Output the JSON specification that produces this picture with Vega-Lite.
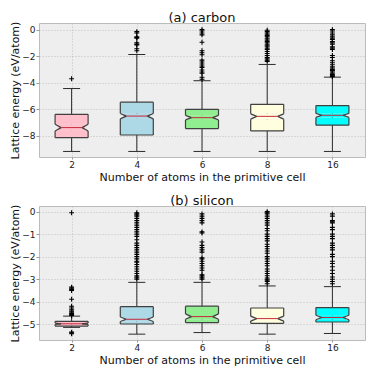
{
  "$schema": "https://vega.github.io/schema/vega-lite/v6.json",
  "padding": {"left": 9, "top": 11, "right": 5, "bottom": 4},
  "background": "white",
  "datasets": {
    "boxes": [
      {"p": "carbon", "n": "2", "lo": -9.2, "q1": -8.16, "nlo": -7.65, "med": -7.4, "nhi": -7.14, "q3": -6.4, "hi": -4.45},
      {"p": "carbon", "n": "4", "lo": -9.2, "q1": -7.96, "nlo": -6.74, "med": -6.53, "nhi": -6.33, "q3": -5.48, "hi": -1.88},
      {"p": "carbon", "n": "6", "lo": -9.2, "q1": -7.47, "nlo": -6.82, "med": -6.65, "nhi": -6.48, "q3": -6.02, "hi": -3.86},
      {"p": "carbon", "n": "8", "lo": -9.2, "q1": -7.65, "nlo": -6.76, "med": -6.55, "nhi": -6.36, "q3": -5.64, "hi": -2.63},
      {"p": "carbon", "n": "16", "lo": -9.2, "q1": -7.22, "nlo": -6.63, "med": -6.47, "nhi": -6.33, "q3": -5.74, "hi": -3.59},
      {"p": "silicon", "n": "2", "lo": -5.14, "q1": -5.08, "nlo": -5.01, "med": -4.98, "nhi": -4.95, "q3": -4.87, "hi": -4.64},
      {"p": "silicon", "n": "4", "lo": -5.44, "q1": -4.99, "nlo": -4.88, "med": -4.78, "nhi": -4.68, "q3": -4.22, "hi": -3.14},
      {"p": "silicon", "n": "6", "lo": -5.37, "q1": -4.93, "nlo": -4.78, "med": -4.66, "nhi": -4.54, "q3": -4.2, "hi": -3.14},
      {"p": "silicon", "n": "8", "lo": -5.44, "q1": -4.96, "nlo": -4.86, "med": -4.75, "nhi": -4.64, "q3": -4.28, "hi": -3.3},
      {"p": "silicon", "n": "16", "lo": -5.41, "q1": -4.9, "nlo": -4.8, "med": -4.7, "nhi": -4.6, "q3": -4.26, "hi": -3.33}
    ],
    "out": [
      {"p": "carbon", "n": "2", "v": -3.71},
      {"p": "carbon", "n": "4", "v": -0.15}, {"p": "carbon", "n": "4", "v": -0.25}, {"p": "carbon", "n": "4", "v": -0.55}, {"p": "carbon", "n": "4", "v": -0.6}, {"p": "carbon", "n": "4", "v": -0.65}, {"p": "carbon", "n": "4", "v": -1.0}, {"p": "carbon", "n": "4", "v": -1.1}, {"p": "carbon", "n": "4", "v": -1.15}, {"p": "carbon", "n": "4", "v": -1.45}, {"p": "carbon", "n": "4", "v": -1.6},
      {"p": "carbon", "n": "6", "v": 0.0}, {"p": "carbon", "n": "6", "v": -0.1}, {"p": "carbon", "n": "6", "v": -0.25}, {"p": "carbon", "n": "6", "v": -0.4}, {"p": "carbon", "n": "6", "v": -0.95}, {"p": "carbon", "n": "6", "v": -1.6}, {"p": "carbon", "n": "6", "v": -1.75}, {"p": "carbon", "n": "6", "v": -1.9}, {"p": "carbon", "n": "6", "v": -2.3}, {"p": "carbon", "n": "6", "v": -2.45}, {"p": "carbon", "n": "6", "v": -2.6}, {"p": "carbon", "n": "6", "v": -2.75}, {"p": "carbon", "n": "6", "v": -2.85}, {"p": "carbon", "n": "6", "v": -3.05}, {"p": "carbon", "n": "6", "v": -3.2}, {"p": "carbon", "n": "6", "v": -3.3}, {"p": "carbon", "n": "6", "v": -3.6}, {"p": "carbon", "n": "6", "v": -3.75},
      {"p": "carbon", "n": "8", "v": -0.05}, {"p": "carbon", "n": "8", "v": -0.15}, {"p": "carbon", "n": "8", "v": -0.25}, {"p": "carbon", "n": "8", "v": -0.35}, {"p": "carbon", "n": "8", "v": -0.45}, {"p": "carbon", "n": "8", "v": -0.55}, {"p": "carbon", "n": "8", "v": -0.7}, {"p": "carbon", "n": "8", "v": -0.8}, {"p": "carbon", "n": "8", "v": -0.9}, {"p": "carbon", "n": "8", "v": -1.0}, {"p": "carbon", "n": "8", "v": -1.15}, {"p": "carbon", "n": "8", "v": -1.25}, {"p": "carbon", "n": "8", "v": -1.4}, {"p": "carbon", "n": "8", "v": -1.5}, {"p": "carbon", "n": "8", "v": -1.65}, {"p": "carbon", "n": "8", "v": -1.8}, {"p": "carbon", "n": "8", "v": -1.95}, {"p": "carbon", "n": "8", "v": -2.1}, {"p": "carbon", "n": "8", "v": -2.2}, {"p": "carbon", "n": "8", "v": -2.3}, {"p": "carbon", "n": "8", "v": -2.4},
      {"p": "carbon", "n": "16", "v": 0.0}, {"p": "carbon", "n": "16", "v": -0.1}, {"p": "carbon", "n": "16", "v": -0.25}, {"p": "carbon", "n": "16", "v": -0.4}, {"p": "carbon", "n": "16", "v": -0.55}, {"p": "carbon", "n": "16", "v": -0.65}, {"p": "carbon", "n": "16", "v": -0.75}, {"p": "carbon", "n": "16", "v": -0.9}, {"p": "carbon", "n": "16", "v": -1.0}, {"p": "carbon", "n": "16", "v": -1.1}, {"p": "carbon", "n": "16", "v": -1.3}, {"p": "carbon", "n": "16", "v": -1.4}, {"p": "carbon", "n": "16", "v": -1.5}, {"p": "carbon", "n": "16", "v": -1.95}, {"p": "carbon", "n": "16", "v": -2.1}, {"p": "carbon", "n": "16", "v": -2.35}, {"p": "carbon", "n": "16", "v": -2.5}, {"p": "carbon", "n": "16", "v": -2.65}, {"p": "carbon", "n": "16", "v": -2.8}, {"p": "carbon", "n": "16", "v": -2.9}, {"p": "carbon", "n": "16", "v": -3.0}, {"p": "carbon", "n": "16", "v": -3.1}, {"p": "carbon", "n": "16", "v": -3.2}, {"p": "carbon", "n": "16", "v": -3.3}, {"p": "carbon", "n": "16", "v": -3.4}, {"p": "carbon", "n": "16", "v": -3.45}, {"p": "carbon", "n": "16", "v": -3.5}, {"p": "carbon", "n": "16", "v": -3.55},
      {"p": "silicon", "n": "2", "v": -0.05}, {"p": "silicon", "n": "2", "v": -3.35}, {"p": "silicon", "n": "2", "v": -3.4}, {"p": "silicon", "n": "2", "v": -3.45}, {"p": "silicon", "n": "2", "v": -3.5}, {"p": "silicon", "n": "2", "v": -3.89}, {"p": "silicon", "n": "2", "v": -4.2}, {"p": "silicon", "n": "2", "v": -4.28}, {"p": "silicon", "n": "2", "v": -4.36}, {"p": "silicon", "n": "2", "v": -4.42}, {"p": "silicon", "n": "2", "v": -4.47}, {"p": "silicon", "n": "2", "v": -4.52}, {"p": "silicon", "n": "2", "v": -4.57}, {"p": "silicon", "n": "2", "v": -4.61}, {"p": "silicon", "n": "2", "v": -5.35}, {"p": "silicon", "n": "2", "v": -5.39}, {"p": "silicon", "n": "2", "v": -5.42},
      {"p": "silicon", "n": "4", "v": -0.05}, {"p": "silicon", "n": "4", "v": -0.1}, {"p": "silicon", "n": "4", "v": -0.15}, {"p": "silicon", "n": "4", "v": -0.2}, {"p": "silicon", "n": "4", "v": -0.3}, {"p": "silicon", "n": "4", "v": -0.4}, {"p": "silicon", "n": "4", "v": -0.5}, {"p": "silicon", "n": "4", "v": -0.6}, {"p": "silicon", "n": "4", "v": -0.7}, {"p": "silicon", "n": "4", "v": -0.8}, {"p": "silicon", "n": "4", "v": -0.9}, {"p": "silicon", "n": "4", "v": -1.0}, {"p": "silicon", "n": "4", "v": -1.1}, {"p": "silicon", "n": "4", "v": -1.25}, {"p": "silicon", "n": "4", "v": -1.4}, {"p": "silicon", "n": "4", "v": -1.5}, {"p": "silicon", "n": "4", "v": -1.6}, {"p": "silicon", "n": "4", "v": -1.7}, {"p": "silicon", "n": "4", "v": -1.8}, {"p": "silicon", "n": "4", "v": -1.9}, {"p": "silicon", "n": "4", "v": -2.0}, {"p": "silicon", "n": "4", "v": -2.1}, {"p": "silicon", "n": "4", "v": -2.2}, {"p": "silicon", "n": "4", "v": -2.25}, {"p": "silicon", "n": "4", "v": -2.35}, {"p": "silicon", "n": "4", "v": -2.45}, {"p": "silicon", "n": "4", "v": -2.55}, {"p": "silicon", "n": "4", "v": -2.65}, {"p": "silicon", "n": "4", "v": -2.75}, {"p": "silicon", "n": "4", "v": -2.85}, {"p": "silicon", "n": "4", "v": -2.9}, {"p": "silicon", "n": "4", "v": -2.95}, {"p": "silicon", "n": "4", "v": -3.0},
      {"p": "silicon", "n": "6", "v": -0.1}, {"p": "silicon", "n": "6", "v": -0.2}, {"p": "silicon", "n": "6", "v": -0.3}, {"p": "silicon", "n": "6", "v": -0.4}, {"p": "silicon", "n": "6", "v": -0.5}, {"p": "silicon", "n": "6", "v": -0.9}, {"p": "silicon", "n": "6", "v": -0.95}, {"p": "silicon", "n": "6", "v": -1.35}, {"p": "silicon", "n": "6", "v": -1.5}, {"p": "silicon", "n": "6", "v": -1.6}, {"p": "silicon", "n": "6", "v": -1.7}, {"p": "silicon", "n": "6", "v": -1.8}, {"p": "silicon", "n": "6", "v": -2.05}, {"p": "silicon", "n": "6", "v": -2.1}, {"p": "silicon", "n": "6", "v": -2.2}, {"p": "silicon", "n": "6", "v": -2.3}, {"p": "silicon", "n": "6", "v": -2.4}, {"p": "silicon", "n": "6", "v": -2.5}, {"p": "silicon", "n": "6", "v": -2.6}, {"p": "silicon", "n": "6", "v": -2.8}, {"p": "silicon", "n": "6", "v": -2.85}, {"p": "silicon", "n": "6", "v": -2.9}, {"p": "silicon", "n": "6", "v": -2.95}, {"p": "silicon", "n": "6", "v": -3.0},
      {"p": "silicon", "n": "8", "v": 0.0}, {"p": "silicon", "n": "8", "v": -0.05}, {"p": "silicon", "n": "8", "v": -0.1}, {"p": "silicon", "n": "8", "v": -0.2}, {"p": "silicon", "n": "8", "v": -0.3}, {"p": "silicon", "n": "8", "v": -0.4}, {"p": "silicon", "n": "8", "v": -0.5}, {"p": "silicon", "n": "8", "v": -0.6}, {"p": "silicon", "n": "8", "v": -0.75}, {"p": "silicon", "n": "8", "v": -0.85}, {"p": "silicon", "n": "8", "v": -1.0}, {"p": "silicon", "n": "8", "v": -1.1}, {"p": "silicon", "n": "8", "v": -1.2}, {"p": "silicon", "n": "8", "v": -1.3}, {"p": "silicon", "n": "8", "v": -1.45}, {"p": "silicon", "n": "8", "v": -1.55}, {"p": "silicon", "n": "8", "v": -1.65}, {"p": "silicon", "n": "8", "v": -1.75}, {"p": "silicon", "n": "8", "v": -1.85}, {"p": "silicon", "n": "8", "v": -2.0}, {"p": "silicon", "n": "8", "v": -2.1}, {"p": "silicon", "n": "8", "v": -2.2}, {"p": "silicon", "n": "8", "v": -2.3}, {"p": "silicon", "n": "8", "v": -2.4}, {"p": "silicon", "n": "8", "v": -2.55}, {"p": "silicon", "n": "8", "v": -2.65}, {"p": "silicon", "n": "8", "v": -2.75}, {"p": "silicon", "n": "8", "v": -2.85}, {"p": "silicon", "n": "8", "v": -2.95}, {"p": "silicon", "n": "8", "v": -3.0}, {"p": "silicon", "n": "8", "v": -3.05}, {"p": "silicon", "n": "8", "v": -3.1}, {"p": "silicon", "n": "8", "v": -3.2},
      {"p": "silicon", "n": "16", "v": -0.1}, {"p": "silicon", "n": "16", "v": -0.2}, {"p": "silicon", "n": "16", "v": -0.4}, {"p": "silicon", "n": "16", "v": -0.45}, {"p": "silicon", "n": "16", "v": -0.5}, {"p": "silicon", "n": "16", "v": -0.7}, {"p": "silicon", "n": "16", "v": -0.8}, {"p": "silicon", "n": "16", "v": -1.0}, {"p": "silicon", "n": "16", "v": -1.1}, {"p": "silicon", "n": "16", "v": -1.2}, {"p": "silicon", "n": "16", "v": -1.4}, {"p": "silicon", "n": "16", "v": -1.5}, {"p": "silicon", "n": "16", "v": -1.6}, {"p": "silicon", "n": "16", "v": -1.7}, {"p": "silicon", "n": "16", "v": -1.9}, {"p": "silicon", "n": "16", "v": -2.0}, {"p": "silicon", "n": "16", "v": -2.2}, {"p": "silicon", "n": "16", "v": -2.3}, {"p": "silicon", "n": "16", "v": -2.45}, {"p": "silicon", "n": "16", "v": -2.6}, {"p": "silicon", "n": "16", "v": -2.75}, {"p": "silicon", "n": "16", "v": -2.9}, {"p": "silicon", "n": "16", "v": -3.0}, {"p": "silicon", "n": "16", "v": -3.1}, {"p": "silicon", "n": "16", "v": -3.2}
    ]
  },
  "vconcat": [
    {
      "width": 326, "height": 134,
      "title": "(a) carbon",
      "data": {"name": "boxes"},
      "transform": [{"filter": "datum.p === 'carbon'"}],
      "encoding": {
        "x": {"field": "n", "type": "ordinal", "sort": ["2", "4", "6", "8", "16"], "scale": {"type": "point", "domain": ["2", "4", "6", "8", "16"], "padding": 0.5}, "title": "Number of atoms in the primitive cell", "axis": {"labelAngle": 0, "tickSize": 2, "labelPadding": 1, "titlePadding": 2}},
        "y": {"type": "quantitative", "scale": {"domain": [-9.62, 0.5], "nice": false, "zero": false}, "title": "Lattice energy (eV/atom)", "axis": {"values": [0, -2, -4, -6, -8]}}
      },
      "layer": [
        {"mark": {"type": "rule", "color": "#2b2b2b", "strokeWidth": 1}, "encoding": {"y": {"field": "lo", "type": "quantitative"}, "y2": {"field": "hi"}}},
        {"mark": {"type": "rule", "color": "#2b2b2b", "strokeWidth": 1, "xOffset": -8.5, "x2Offset": 8.5}, "encoding": {"x2": {"field": "n"}, "y": {"field": "lo", "type": "quantitative"}}},
        {"mark": {"type": "rule", "color": "#2b2b2b", "strokeWidth": 1, "xOffset": -8.5, "x2Offset": 8.5}, "encoding": {"x2": {"field": "n"}, "y": {"field": "hi", "type": "quantitative"}}},
        {"mark": {"type": "bar", "size": 33}, "encoding": {"y": {"field": "q1", "type": "quantitative"}, "y2": {"field": "nlo"}, "fill": {"field": "n", "type": "nominal", "scale": {"domain": ["2", "4", "6", "8", "16"], "range": ["#ffc0cb", "#add8e6", "#90ee90", "#ffffe0", "#00ffff"]}, "legend": null}}},
        {"mark": {"type": "bar", "size": 27}, "encoding": {"y": {"field": "nlo", "type": "quantitative"}, "y2": {"field": "nhi"}, "fill": {"field": "n", "type": "nominal", "legend": null}}},
        {"mark": {"type": "bar", "size": 33}, "encoding": {"y": {"field": "nhi", "type": "quantitative"}, "y2": {"field": "q3"}, "fill": {"field": "n", "type": "nominal", "legend": null}}},
        {"mark": {"type": "rule", "color": "#404040", "strokeWidth": 1.2, "xOffset": -16.5}, "encoding": {"y": {"field": "q1", "type": "quantitative"}, "y2": {"field": "nlo"}}},
        {"mark": {"type": "rule", "color": "#404040", "strokeWidth": 1.2, "xOffset": -16.5, "x2Offset": -10.5}, "encoding": {"x2": {"field": "n"}, "y": {"field": "nlo", "type": "quantitative"}, "y2": {"field": "med"}}},
        {"mark": {"type": "rule", "color": "#404040", "strokeWidth": 1.2, "xOffset": -10.5, "x2Offset": -16.5}, "encoding": {"x2": {"field": "n"}, "y": {"field": "med", "type": "quantitative"}, "y2": {"field": "nhi"}}},
        {"mark": {"type": "rule", "color": "#404040", "strokeWidth": 1.2, "xOffset": -16.5}, "encoding": {"y": {"field": "nhi", "type": "quantitative"}, "y2": {"field": "q3"}}},
        {"mark": {"type": "rule", "color": "#404040", "strokeWidth": 1.2, "xOffset": 16.5}, "encoding": {"y": {"field": "q1", "type": "quantitative"}, "y2": {"field": "nlo"}}},
        {"mark": {"type": "rule", "color": "#404040", "strokeWidth": 1.2, "xOffset": 16.5, "x2Offset": 10.5}, "encoding": {"x2": {"field": "n"}, "y": {"field": "nlo", "type": "quantitative"}, "y2": {"field": "med"}}},
        {"mark": {"type": "rule", "color": "#404040", "strokeWidth": 1.2, "xOffset": 10.5, "x2Offset": 16.5}, "encoding": {"x2": {"field": "n"}, "y": {"field": "med", "type": "quantitative"}, "y2": {"field": "nhi"}}},
        {"mark": {"type": "rule", "color": "#404040", "strokeWidth": 1.2, "xOffset": 16.5}, "encoding": {"y": {"field": "nhi", "type": "quantitative"}, "y2": {"field": "q3"}}},
        {"mark": {"type": "rule", "color": "#404040", "strokeWidth": 1.2, "xOffset": -16.5, "x2Offset": 16.5}, "encoding": {"x2": {"field": "n"}, "y": {"field": "q1", "type": "quantitative"}}},
        {"mark": {"type": "rule", "color": "#404040", "strokeWidth": 1.2, "xOffset": -16.5, "x2Offset": 16.5}, "encoding": {"x2": {"field": "n"}, "y": {"field": "q3", "type": "quantitative"}}},
        {"mark": {"type": "rule", "color": "#c8283c", "strokeWidth": 1, "xOffset": -10.5, "x2Offset": 10.5}, "encoding": {"x2": {"field": "n"}, "y": {"field": "med", "type": "quantitative"}}},
        {"data": {"name": "out"}, "transform": [{"filter": "datum.p === 'carbon'"}], "mark": {"type": "point", "shape": "M-1,0H1M0,-1V1", "filled": false, "stroke": "#000000", "strokeWidth": 1.1, "size": 24, "opacity": 1}, "encoding": {"y": {"field": "v", "type": "quantitative"}}}
      ]
    },
    {
      "width": 326, "height": 134,
      "title": "(b) silicon",
      "data": {"name": "boxes"},
      "transform": [{"filter": "datum.p === 'silicon'"}],
      "encoding": {
        "x": {"field": "n", "type": "ordinal", "sort": ["2", "4", "6", "8", "16"], "scale": {"type": "point", "domain": ["2", "4", "6", "8", "16"], "padding": 0.5}, "title": "Number of atoms in the primitive cell", "axis": {"labelAngle": 0, "tickSize": 2, "labelPadding": 1, "titlePadding": 2}},
        "y": {"type": "quantitative", "scale": {"domain": [-5.7, 0.25], "nice": false, "zero": false}, "title": "Lattice energy (eV/atom)", "axis": {"values": [0, -1, -2, -3, -4, -5]}}
      },
      "layer": [
        {"mark": {"type": "rule", "color": "#2b2b2b", "strokeWidth": 1}, "encoding": {"y": {"field": "lo", "type": "quantitative"}, "y2": {"field": "hi"}}},
        {"mark": {"type": "rule", "color": "#2b2b2b", "strokeWidth": 1, "xOffset": -8.5, "x2Offset": 8.5}, "encoding": {"x2": {"field": "n"}, "y": {"field": "lo", "type": "quantitative"}}},
        {"mark": {"type": "rule", "color": "#2b2b2b", "strokeWidth": 1, "xOffset": -8.5, "x2Offset": 8.5}, "encoding": {"x2": {"field": "n"}, "y": {"field": "hi", "type": "quantitative"}}},
        {"mark": {"type": "bar", "size": 33}, "encoding": {"y": {"field": "q1", "type": "quantitative"}, "y2": {"field": "nlo"}, "fill": {"field": "n", "type": "nominal", "scale": {"domain": ["2", "4", "6", "8", "16"], "range": ["#ffc0cb", "#add8e6", "#90ee90", "#ffffe0", "#00ffff"]}, "legend": null}}},
        {"mark": {"type": "bar", "size": 27}, "encoding": {"y": {"field": "nlo", "type": "quantitative"}, "y2": {"field": "nhi"}, "fill": {"field": "n", "type": "nominal", "legend": null}}},
        {"mark": {"type": "bar", "size": 33}, "encoding": {"y": {"field": "nhi", "type": "quantitative"}, "y2": {"field": "q3"}, "fill": {"field": "n", "type": "nominal", "legend": null}}},
        {"mark": {"type": "rule", "color": "#404040", "strokeWidth": 1.2, "xOffset": -16.5}, "encoding": {"y": {"field": "q1", "type": "quantitative"}, "y2": {"field": "nlo"}}},
        {"mark": {"type": "rule", "color": "#404040", "strokeWidth": 1.2, "xOffset": -16.5, "x2Offset": -10.5}, "encoding": {"x2": {"field": "n"}, "y": {"field": "nlo", "type": "quantitative"}, "y2": {"field": "med"}}},
        {"mark": {"type": "rule", "color": "#404040", "strokeWidth": 1.2, "xOffset": -10.5, "x2Offset": -16.5}, "encoding": {"x2": {"field": "n"}, "y": {"field": "med", "type": "quantitative"}, "y2": {"field": "nhi"}}},
        {"mark": {"type": "rule", "color": "#404040", "strokeWidth": 1.2, "xOffset": -16.5}, "encoding": {"y": {"field": "nhi", "type": "quantitative"}, "y2": {"field": "q3"}}},
        {"mark": {"type": "rule", "color": "#404040", "strokeWidth": 1.2, "xOffset": 16.5}, "encoding": {"y": {"field": "q1", "type": "quantitative"}, "y2": {"field": "nlo"}}},
        {"mark": {"type": "rule", "color": "#404040", "strokeWidth": 1.2, "xOffset": 16.5, "x2Offset": 10.5}, "encoding": {"x2": {"field": "n"}, "y": {"field": "nlo", "type": "quantitative"}, "y2": {"field": "med"}}},
        {"mark": {"type": "rule", "color": "#404040", "strokeWidth": 1.2, "xOffset": 10.5, "x2Offset": 16.5}, "encoding": {"x2": {"field": "n"}, "y": {"field": "med", "type": "quantitative"}, "y2": {"field": "nhi"}}},
        {"mark": {"type": "rule", "color": "#404040", "strokeWidth": 1.2, "xOffset": 16.5}, "encoding": {"y": {"field": "nhi", "type": "quantitative"}, "y2": {"field": "q3"}}},
        {"mark": {"type": "rule", "color": "#404040", "strokeWidth": 1.2, "xOffset": -16.5, "x2Offset": 16.5}, "encoding": {"x2": {"field": "n"}, "y": {"field": "q1", "type": "quantitative"}}},
        {"mark": {"type": "rule", "color": "#404040", "strokeWidth": 1.2, "xOffset": -16.5, "x2Offset": 16.5}, "encoding": {"x2": {"field": "n"}, "y": {"field": "q3", "type": "quantitative"}}},
        {"mark": {"type": "rule", "color": "#c8283c", "strokeWidth": 1, "xOffset": -10.5, "x2Offset": 10.5}, "encoding": {"x2": {"field": "n"}, "y": {"field": "med", "type": "quantitative"}}},
        {"data": {"name": "out"}, "transform": [{"filter": "datum.p === 'silicon'"}], "mark": {"type": "point", "shape": "M-1,0H1M0,-1V1", "filled": false, "stroke": "#000000", "strokeWidth": 1.1, "size": 24, "opacity": 1}, "encoding": {"y": {"field": "v", "type": "quantitative"}}}
      ]
    }
  ],
  "config": {
    "font": "DejaVu Sans",
    "view": {"fill": "#eeeeee", "stroke": "#bcbcbc", "strokeWidth": 1},
    "axis": {"domain": false, "grid": true, "gridColor": "#b2b2b2", "gridDash": [1, 2], "gridWidth": 0.8, "tickColor": "#9a9a9a", "tickSize": 3, "labelFontSize": 9, "labelColor": "#222222", "titleFontSize": 11, "titleFontWeight": "normal", "titleColor": "#111111", "labelPadding": 1, "titlePadding": 1},
    "title": {"fontSize": 13, "fontWeight": "normal", "color": "#111111", "offset": -4},
    "concat": {"spacing": 11}
  }
}
